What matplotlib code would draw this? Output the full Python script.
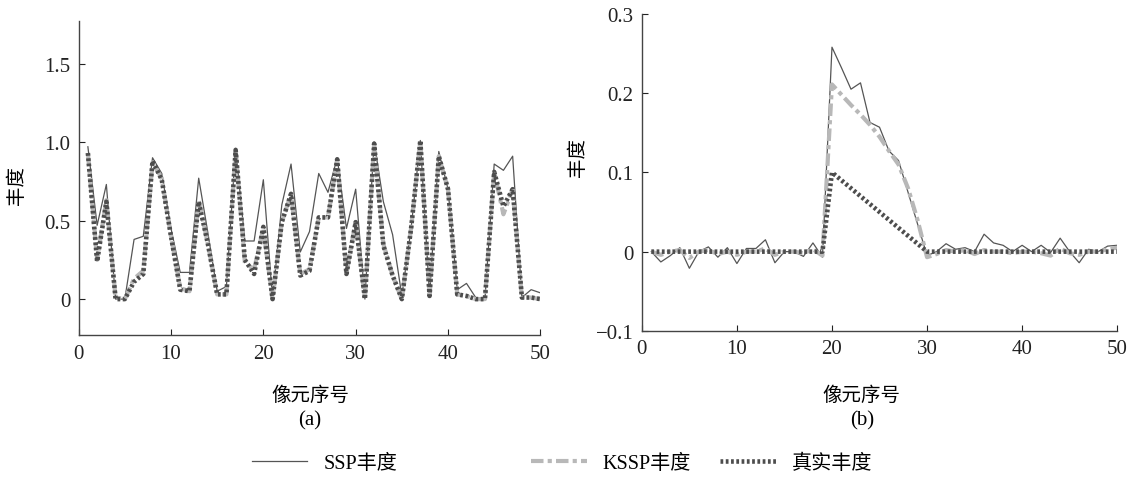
import matplotlib.pyplot as plt
import numpy as np

plt.rcParams['font.family'] = ['Liberation Serif', 'Noto Sans CJK SC']

x = np.arange(1, 51)

# (a) 
ssp_a = [0.97, 0.47, 0.73, 0.0, 0.0, 0.38, 0.40, 0.90, 0.80, 0.45,
         0.17, 0.17, 0.77, 0.42, 0.05, 0.08, 0.96, 0.37, 0.37, 0.76,
         0.0, 0.60, 0.86, 0.30, 0.43, 0.80, 0.68, 0.90, 0.45, 0.70,
         0.0, 1.0, 0.62, 0.41, 0.02, 0.45, 1.01, 0.02, 0.94, 0.70,
         0.06, 0.10, 0.01, 0.0, 0.86, 0.82, 0.91, 0.01, 0.06, 0.04]
kssp_a = [0.93, 0.25, 0.63, 0.01, 0.0, 0.13, 0.18, 0.87, 0.77, 0.40,
          0.07, 0.05, 0.63, 0.35, 0.03, 0.03, 0.95, 0.23, 0.19, 0.45,
          0.0, 0.49, 0.67, 0.16, 0.19, 0.52, 0.52, 0.89, 0.17, 0.49,
          0.0, 0.99, 0.35, 0.15, 0.0, 0.45, 1.01, 0.02, 0.91, 0.70,
          0.03, 0.02, 0.0, 0.0, 0.81, 0.54, 0.70, 0.01, 0.01, 0.0]
true_a = [0.93, 0.24, 0.62, 0.0, 0.0, 0.11, 0.16, 0.88, 0.76, 0.40,
          0.06, 0.05, 0.62, 0.35, 0.03, 0.03, 0.95, 0.25, 0.16, 0.46,
          0.0, 0.49, 0.67, 0.15, 0.18, 0.52, 0.52, 0.89, 0.16, 0.49,
          0.0, 0.99, 0.34, 0.15, 0.0, 0.45, 1.01, 0.02, 0.91, 0.70,
          0.03, 0.02, 0.0, 0.0, 0.81, 0.59, 0.70, 0.01, 0.01, 0.0]

# (b)
ssp_b = [0.0, -0.013, -0.005, 0.005, -0.021, 0.0, 0.006, -0.007, 0.005, -0.015,
         0.004, 0.004, 0.015, -0.014, 0.0, 0.0, -0.006, 0.011, -0.007, 0.258,
         0.232, 0.205, 0.213, 0.163, 0.157, 0.127, 0.115, 0.075, 0.035, -0.005,
         0.0, 0.01, 0.003, 0.005, 0.0, 0.022, 0.011, 0.008, 0.0, 0.008,
         0.0, 0.008, -0.001, 0.017, 0.0, -0.014, 0.003, 0.0, 0.007, 0.008]
kssp_b = [0.0, -0.004, 0.0, 0.002, -0.008, 0.0, 0.002, -0.003, 0.0, -0.004,
          0.0, 0.0, 0.004, -0.004, 0.0, 0.0, -0.002, 0.003, -0.005, 0.211,
          0.198, 0.185, 0.173, 0.16, 0.145, 0.127, 0.11, 0.08, 0.04, -0.007,
          -0.003, 0.002, 0.0, 0.002, -0.003, 0.002, 0.0, 0.0, -0.002, 0.0,
          0.0, -0.002, -0.005, 0.004, -0.002, -0.004, 0.0, 0.0, 0.003, 0.005]
true_b = [0.0] * 19 + [0.1, 0.09, 0.08, 0.07, 0.06, 0.05, 0.04, 0.03, 0.02, 0.01, 0.0] + [0.0] * 20

labels = ['SSP丰度', 'KSSP丰度', '真实丰度']
styles = [dict(color='#555555', lw=0.9),
          dict(color='#b8b8b8', lw=3, ls=(0, (3, 1, 1, 1))),
          dict(color='#4d4d4d', lw=3.3, ls=(0, (0.6, 0.55)))]

fig = plt.figure(figsize=(11.4, 4.81), dpi=100)
ax1 = fig.add_axes([0.069, 0.301, 0.405, 0.653])
ax2 = fig.add_axes([0.563, 0.31, 0.417, 0.659])

for ax, s, k, t in [(ax1, ssp_a, kssp_a, true_a), (ax2, ssp_b, kssp_b, true_b)]:
    for y, st in zip([s, k, t], styles):
        ax.plot(x, y, **st)
    ax.set_xlim(0, 50)
    ax.set_xticks([0, 10, 20, 30, 40, 50])
    ax.spines['top'].set_visible(False)
    ax.spines['right'].set_visible(False)
    for sp in ['left', 'bottom']:
        ax.spines[sp].set_color('#444444')
        ax.spines[sp].set_linewidth(1.0)
    ax.tick_params(direction='in', length=4, labelsize=15, colors='#222222', pad=6)

ax1.set_ylim(-0.23, 1.77)
ax1.set_yticks([0, 0.5, 1.0, 1.5])
ax1.set_yticklabels(['0', '0.5', '1.0', '1.5'])
ax2.set_ylim(-0.1, 0.3)
ax2.set_yticks([-0.1, 0, 0.1, 0.2, 0.3])
ax2.set_yticklabels(['−0.1', '0', '0.1', '0.2', '0.3'])

fig.text(0.015, 0.615, '丰度', rotation=90, fontsize=14, ha='center', va='center')
fig.text(0.507, 0.672, '丰度', rotation=90, fontsize=14, ha='center', va='center')
fig.text(0.272, 0.178, '像元序号', fontsize=14, ha='center', va='center')
fig.text(0.756, 0.178, '像元序号', fontsize=14, ha='center', va='center')
fig.text(0.272, 0.125, '(a)', fontsize=15, ha='center', va='center')
fig.text(0.756, 0.125, '(b)', fontsize=15, ha='center', va='center')

# three separate legend entries, spaced like the original
anchors = [0.221, 0.466, 0.632]
for lab, st, ax_ in zip(labels, styles, anchors):
    h = plt.Line2D([], [], **st)
    fig.legend([h], [lab], loc='center left', bbox_to_anchor=(ax_, 0.035), frameon=False,
               fontsize=14.5, handlelength=2.75, handletextpad=0.8, borderpad=0, borderaxespad=0)

fig.savefig('out.png', dpi=100, facecolor='white')
